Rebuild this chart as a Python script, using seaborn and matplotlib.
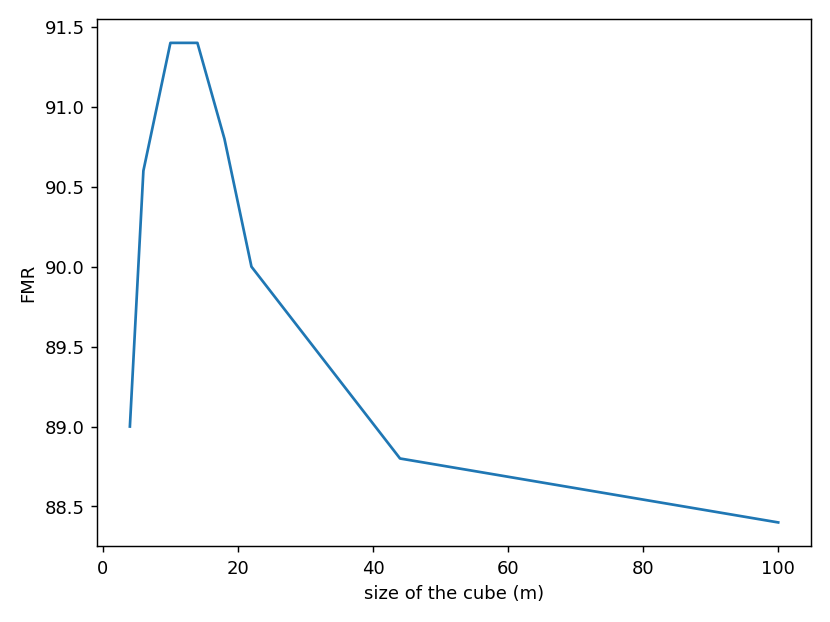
import matplotlib
matplotlib.use("Agg")
import matplotlib.pyplot as plt
import seaborn as sns
import pandas as pd

cube_size = [4, 6, 10, 14, 18, 22, 44, 100]
fmr = [89.0, 90.6, 91.4, 91.4, 90.8, 90.0, 88.8, 88.4]

df = pd.DataFrame({"size": cube_size, "FMR": fmr})

fig, ax = plt.subplots(figsize=(6.4, 4.8))
sns.lineplot(data=df, x="size", y="FMR", ax=ax, color="#1f77b4", linewidth=1.5)
ax.set_xlabel("size of the cube (m)")
ax.set_ylabel("FMR")
plt.tight_layout()
plt.savefig("out.png", dpi=129.7)
